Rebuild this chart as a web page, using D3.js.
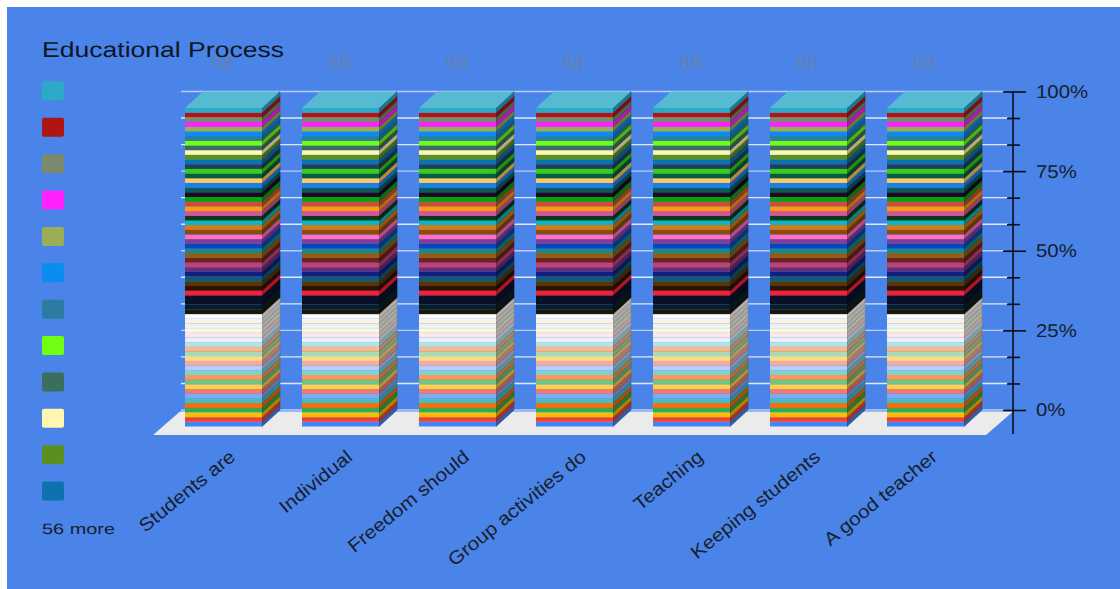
<!DOCTYPE html>
<html>
<head>
<meta charset="utf-8">
<title>Educational Process</title>
<script src="https://cdnjs.cloudflare.com/ajax/libs/d3/7.8.5/d3.min.js"></script>
<style>
html,body{margin:0;padding:0;background:#fff;}
svg{display:block;}
text{font-family:"Liberation Sans",Arial,sans-serif;text-rendering:geometricPrecision;}
</style>
</head>
<body>
<svg id="chart" width="1120" height="589"></svg>
<script>
const chartTitle = "Educational Process";
const categories = ["Students are","Individual","Freedom should","Group activities do","Teaching","Keeping students","A good teacher"];
// One stacked segment per response, listed from the bottom of the stack upward.
const seriesColors = [
  "#4285f4","#ea4335","#fbbc04","#34a853","#ff6d00","#46bdc6",
  "#7baaf7","#f07b72","#fcd04f","#71c287","#ff994d","#7ed1d7",
  "#b3cefb","#f7a9a3","#fddc80","#aadab7","#ffb880","#b2e3e6",
  "#e8f0fe","#fce8e6","#fef6e0","#e8f5ee","#feefe3","#f6fbfb",
  "#1e1408","#03202a","#081026","#0a0f2a","#ff1e2e","#2a1206",
  "#5a3408","#0b5c70","#0f2080","#63307e","#c8406f","#6a2222",
  "#9a5a0c","#14888c","#0a46b8","#7d3f9e","#ff6ec0","#8a4a10",
  "#d87a10","#0cb5c0","#0a3a18","#d8559a","#ff9a10","#c8503a",
  "#0aa010","#1b0a20","#0b5a5a","#1a80e8","#ffc860","#065c3e",
  "#35d010","#20405e","#0c72b0","#5a9020","#fff6b0","#3a6f5e",
  "#70ff10","#2a7d9e","#0a8cf0","#9bad55","#ff22ff","#7a8a6e",
  "#b01515","#2da9c8"
];
// Each response holds one count in every category.
const seriesValues = [
  1,1,1,1,1,1,1,1,1,1,1,1,1,1,1,1,1,
  1,1,1,1,1,1,1,1,1,1,1,1,1,1,1,1,1,
  1,1,1,1,1,1,1,1,1,1,1,1,1,1,1,1,1,
  1,1,1,1,1,1,1,1,1,1,1,1,1,1,1,1,1
];
const majorTicks = [0, 0.25, 0.5, 0.75, 1];
const minorTicks = [1/12, 2/12, 4/12, 5/12, 7/12, 8/12, 10/12, 11/12];
const legendCount = 12;
const moreLabel = "56 more";

const background = "#4a84e8";
const textColor = "#17202f";
const depthX = 18, depthY = 16.5;

const svg = d3.select("#chart");
svg.append("rect").attr("x", 7).attr("y", 7).attr("width", 1113).attr("height", 582).attr("fill", background);

// Widens text horizontally by the given factor
const widen = (sel, factor) => sel.each(function() {
  this.setAttribute("textLength", this.getComputedTextLength() * factor);
  this.setAttribute("lengthAdjust", "spacingAndGlyphs");
});

const keys = seriesColors.map((_, i) => i);
const rows = categories.map(name => {
  const row = {name};
  keys.forEach(k => { row[k] = seriesValues[k]; });
  return row;
});
const stacked = d3.stack().keys(keys).offset(d3.stackOffsetExpand)(rows);

const x = d3.scaleBand().domain(categories).range([165, 984]).paddingInner(40 / 117).paddingOuter(20 / 117);
const y = d3.scaleLinear().domain([0, 1]).range([410, 91.5]);
const frontY = v => y(v) + depthY;
const bw = x.bandwidth();

// Floor of the 3D plot
svg.append("polygon")
  .attr("points", [[153,435],[180,411.5],[1013,411.5],[986,435]].join(" "))
  .attr("fill", "#ebebeb");

// Back-wall gridlines
const gridLayer = svg.append("g");
majorTicks.concat(minorTicks).forEach(t => {
  const isMajor = majorTicks.includes(t);
  gridLayer.append("line")
    .attr("x1", 181).attr("x2", isMajor ? 1004 : 1008)
    .attr("y1", y(t)).attr("y2", y(t))
    .attr("stroke", isMajor ? "#b9cdf5" : "#dfe9fb")
    .attr("stroke-width", 1.4);
});

// Value axis with long major and short minor ticks
const majorAxis = d3.axisRight(y).tickValues(majorTicks).tickSize(13).tickPadding(10)
  .tickFormat(d3.format(".0%"));
const axisG = svg.append("g").attr("transform", "translate(1013,0)").call(majorAxis);
axisG.select(".domain").remove();
axisG.selectAll(".tick line").attr("x1", -10).attr("stroke", "#0b0f1a").attr("stroke-width", 1.6);
axisG.selectAll(".tick text").attr("fill", textColor).style("font-size", "18.5px")
  .style("font-family", "'Liberation Sans',Arial,sans-serif")
  .call(widen, 1.1);
const minorAxis = d3.axisRight(y).tickValues(minorTicks).tickSize(7).tickFormat("");
const minorG = svg.append("g").attr("transform", "translate(1013,0)").call(minorAxis);
minorG.select(".domain").remove();
minorG.selectAll(".tick line").attr("x1", -6).attr("stroke", "#0b0f1a").attr("stroke-width", 1.6);
svg.append("line").attr("x1", 1013).attr("x2", 1013).attr("y1", y(1)).attr("y2", 434)
  .attr("stroke", "#0b0f1a").attr("stroke-width", 1.6);

// Stacked 3D columns: side faces, front faces, then the lid
const shade = (c, f) => { const r = d3.rgb(c); return d3.rgb(r.r * f, r.g * f, r.b * f).formatHex(); };
const bars = svg.selectAll("g.bar").data(categories).join("g").attr("class", "bar");
bars.each(function(name, ci) {
  const g = d3.select(this);
  const x0 = x(name), x1 = x0 + bw;
  const segs = stacked.map(s => ({key: s.key, lo: s[ci][0], hi: s[ci][1]}));
  g.selectAll("polygon.side").data(segs).join("polygon").attr("class", "side")
    .attr("points", d => [
      [x1, frontY(d.lo)], [x1 + depthX, y(d.lo)],
      [x1 + depthX, y(d.hi)], [x1, frontY(d.hi)]
    ].join(" "))
    .attr("fill", d => shade(seriesColors[d.key], 0.7))
    .attr("stroke", d => shade(seriesColors[d.key], 0.55))
    .attr("stroke-width", 0.6);
  g.selectAll("rect.front").data(segs).join("rect").attr("class", "front")
    .attr("x", x0).attr("width", bw)
    .attr("y", d => frontY(d.hi))
    .attr("height", d => frontY(d.lo) - frontY(d.hi))
    .attr("fill", d => seriesColors[d.key]);
  const top = seriesColors[seriesColors.length - 1];
  g.append("polygon")
    .attr("points", [
      [x0, frontY(1)], [x0 + depthX, y(1)], [x1 + depthX, y(1)], [x1, frontY(1)]
    ].join(" "))
    .attr("fill", d3.interpolateRgb(top, "#ffffff")(0.2));
  // Stack total above the column
  g.append("text")
    .attr("x", x0 + bw / 2 - 1).attr("y", 69)
    .attr("text-anchor", "middle")
    .attr("fill", "#6580b0")
    .style("font-size", "20px")
    .text(d3.sum(seriesValues));
});

// Slanted category labels
svg.selectAll("text.cat").data(categories).join("text").attr("class", "cat")
  .attr("transform", d => `translate(${x(d) + bw / 2 + 13},${459}) rotate(-39)`)
  .attr("text-anchor", "end")
  .attr("fill", textColor)
  .style("font-size", "18.5px")
  .text(d => d)
  .call(widen, 1.12);

// Title
svg.append("text").attr("x", 42).attr("y", 57)
  .attr("fill", "#0f1626")
  .style("font-size", "21.5px")
  .text(chartTitle)
  .attr("textLength", 242)
  .attr("lengthAdjust", "spacingAndGlyphs");

// Legend: the topmost responses, then a count of the rest
const legendItems = seriesColors.slice(-legendCount).reverse();
const legendY = d3.scalePoint().domain(d3.range(legendCount)).range([91, 491]);
svg.selectAll("rect.swatch").data(legendItems).join("rect").attr("class", "swatch")
  .attr("x", 42).attr("y", (d, i) => legendY(i) - 9.5)
  .attr("width", 22).attr("height", 19).attr("rx", 2)
  .attr("fill", d => d);
svg.append("text").attr("x", 42).attr("y", 534)
  .attr("fill", textColor)
  .style("font-size", "15px")
  .text(moreLabel)
  .attr("textLength", 73)
  .attr("lengthAdjust", "spacingAndGlyphs");
</script>
</body>
</html>
